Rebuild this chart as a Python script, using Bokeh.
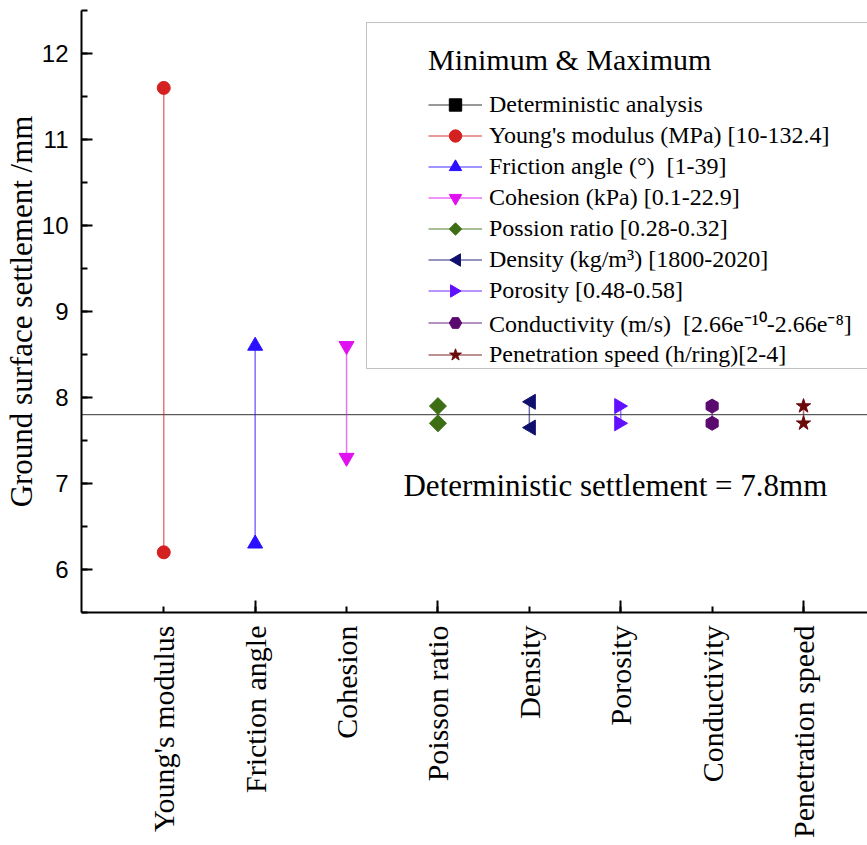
from math import pi
import numpy as np
from bokeh.plotting import figure
from bokeh.models import (Range1d, FixedTicker, Legend, LegendItem, Label,
                          BoxAnnotation, ColumnDataSource, CustomJS)
from bokeh.embed import file_html
from bokeh.resources import INLINE

# ---------------- data ----------------
categories = ["Young's modulus", "Friction angle", "Cohesion", "Poisson ratio",
              "Density", "Porosity", "Conductivity", "Penetration speed"]
legend_labels = ["Young's modulus (MPa) [10-132.4]",
                 "Friction angle (\u00b0)  [1-39]",
                 "Cohesion (kPa) [0.1-22.9]",
                 "Possion ratio [0.28-0.32]",
                 "Density (kg/m\u00b3) [1800-2020]",
                 "Porosity [0.48-0.58]",
                 "Conductivity (m/s)  [2.66e\u207b\u00b9\u2070-2.66e\u207b\u2078]",
                 "Penetration speed (h/ring)[2-4]"]
min_values = [6.2, 6.3, 7.3, 7.7, 7.65, 7.7, 7.7, 7.7]
max_values = [11.6, 8.6, 8.6, 7.9, 7.95, 7.9, 7.9, 7.9]
deterministic = 7.8
det_x = [0, 9]
y_ticks = [6, 7, 8, 9, 10, 11, 12]

# ---------------- styles ----------------
colors = ["#d42020", "#2a10ff", "#e010f0", "#3d6e14",
          "#10106e", "#6010ff", "#5a0a6e", "#6a0a0a"]


def marker_js(path_js):
    return CustomJS(code="""
try {
  let d = null;
  if (typeof cb_data !== 'undefined' && cb_data != null && cb_data.ctx != null) d = cb_data;
  else if (typeof cb_obj !== 'undefined' && cb_obj != null && cb_obj.ctx != null) d = cb_obj;
  if (d == null) return;
  const ctx = d.ctx, r = d.r, i = d.i, visuals = d.visuals;
  %s
  ctx.closePath();
  visuals.fill.apply(ctx, i);
  visuals.line.apply(ctx, i);
} catch (e) {}
""" % path_js)


custom_defs = {
    "@diamond": "ctx.moveTo(0, -r); ctx.lineTo(r, 0); ctx.lineTo(0, r); ctx.lineTo(-r, 0);",
    "@left": "ctx.moveTo(-0.9*r, 0); ctx.lineTo(0.8*r, -r); ctx.lineTo(0.8*r, r);",
    "@right": "ctx.moveTo(0.9*r, 0); ctx.lineTo(-0.8*r, -r); ctx.lineTo(-0.8*r, r);",
}
markers = ["circle", "triangle", "inverted_triangle", "@diamond",
           "@left", "@right", "hex", "star"]
angles = [0, 0, 0, 0, 0, 0, pi / 2, 0]
sizes = [13, 15, 15, 17, 15, 15, 14, 15]

serif = "Liberation Serif"
sans = "Liberation Sans"

p = figure(width=867, height=845, output_backend="svg", toolbar_location=None,
           x_range=Range1d(0.1, 8.7), y_range=Range1d(5.5, 12.5),
           min_border_left=81, min_border_right=0, min_border_top=10,
           min_border_bottom=233)
p.outline_line_color = None
p.grid.visible = False
p.background_fill_color = "white"

# deterministic series
det_src = ColumnDataSource(dict(x=det_x, y=[deterministic] * len(det_x)))
det_line = p.line("x", "y", source=det_src, line_color="#333333", line_width=1)
det_pts = p.scatter("x", "y", source=det_src, marker="square", size=10,
                    fill_color="black", line_color="black")

items = [LegendItem(label="Deterministic analysis", renderers=[det_line, det_pts])]

for i, cat in enumerate(categories):
    pos = i + 1
    src = ColumnDataSource(dict(x=[pos, pos], y=[min_values[i], max_values[i]]))
    lr = p.line("x", "y", source=src, line_color=colors[i], line_width=1.5,
                line_alpha=0.6)
    kw = {}
    if markers[i].startswith("@"):
        kw["defs"] = {markers[i]: marker_js(custom_defs[markers[i]])}
    sr = p.scatter("x", "y", source=src, marker=markers[i], size=sizes[i],
                   angle=angles[i], fill_color=colors[i], line_color=colors[i],
                   **kw)
    items.append(LegendItem(label=legend_labels[i], renderers=[lr, sr]))

# axes
xa = p.xaxis[0]
xa.ticker = FixedTicker(ticks=list(range(1, len(categories) + 1)),
                        minor_ticks=list(range(2, len(categories) + 1, 2)))
xa.major_label_overrides = {i + 1: c for i, c in enumerate(categories)}
xa.major_label_orientation = pi / 2
xa.major_label_text_font = serif
xa.major_label_text_font_size = "30px"
xa.major_label_text_color = "black"
xa.major_label_standoff = 13
xa.major_tick_in = 6
xa.major_tick_out = 0
xa.minor_tick_in = 12
xa.minor_tick_out = 0
xa.axis_line_width = 2
xa.major_tick_line_width = 2
xa.minor_tick_line_width = 2
xa.axis_line_color = "black"

ya = p.yaxis[0]
ya.ticker = FixedTicker(ticks=y_ticks,
                        minor_ticks=list(np.arange(5.5, 12.51, 0.5)))
ya.major_label_text_font = sans
ya.major_label_text_font_size = "24px"
ya.major_label_text_color = "black"
ya.major_label_standoff = 13
ya.major_tick_in = 11
ya.major_tick_out = 0
ya.minor_tick_in = 6
ya.minor_tick_out = 0
ya.axis_line_width = 2
ya.major_tick_line_width = 2
ya.minor_tick_line_width = 2
ya.axis_label = "Ground surface settlement /mm"
ya.axis_label_text_font = serif
ya.axis_label_text_font_size = "31px"
ya.axis_label_text_font_style = "normal"
ya.axis_label_text_color = "black"
ya.axis_label_standoff = 0

# legend frame
box = BoxAnnotation(left=3.218, right=9.5, top=12.36, bottom=8.337,
                    fill_color="white", fill_alpha=1.0,
                    line_color="#333333", line_width=1)
p.add_layout(box)

legend = Legend(items=items, location=(347, 242), title="Minimum & Maximum",
                title_text_font=serif, title_text_font_size="30px",
                title_text_font_style="normal", title_text_color="black",
                title_standoff=12,
                label_text_font=serif, label_text_font_size="24px",
                label_text_color="black", label_height=31, glyph_height=31,
                glyph_width=54, label_standoff=7, spacing=0, padding=0,
                margin=0, border_line_alpha=0, background_fill_alpha=0)
p.add_layout(legend)

p.add_layout(Label(x=3.623, y=6.98, text=f"Deterministic settlement = {deterministic}mm",
                   text_font=serif, text_font_size="31px", text_color="black",
                   text_baseline="alphabetic"))

open("out.html", "w").write(file_html(p, INLINE))
